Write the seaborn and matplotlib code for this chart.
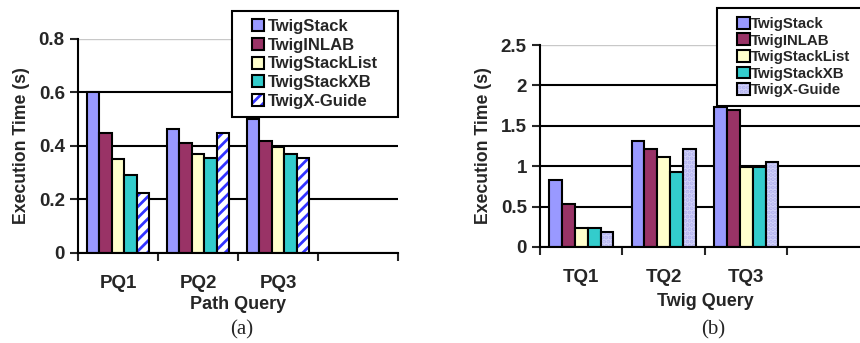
import numpy as np
import pandas as pd
import matplotlib
matplotlib.use('Agg')
import matplotlib.pyplot as plt
from matplotlib.patches import Rectangle, Patch
from matplotlib.ticker import FuncFormatter
import seaborn as sns

algorithms = ['TwigStack', 'TwigINLAB', 'TwigStackList', 'TwigStackXB', 'TwigX-Guide']
colors = ['#9999FF', '#993366', '#FFFFCC', '#33CCCC', '#FFFFFF']

path_queries = ['PQ1', 'PQ2', 'PQ3']
path_twigstack = [0.60, 0.465, 0.50]
path_twiginlab = [0.45, 0.41, 0.42]
path_twigstacklist = [0.35, 0.37, 0.395]
path_twigstackxb = [0.29, 0.355, 0.37]
path_twigxguide = [0.225, 0.45, 0.355]

twig_queries = ['TQ1', 'TQ2', 'TQ3']
twig_twigstack = [0.83, 1.31, 1.73]
twig_twiginlab = [0.53, 1.21, 1.70]
twig_twigstacklist = [0.24, 1.12, 0.99]
twig_twigstackxb = [0.24, 0.93, 0.99]
twig_twigxguide = [0.18, 1.21, 1.05]

path_ticks = [0, 0.2, 0.4, 0.6, 0.8]
twig_ticks = [0, 0.5, 1, 1.5, 2, 2.5]

sns.set_style('white')
plt.rcParams['font.family'] = ['Liberation Sans', 'DejaVu Sans']
plt.rcParams['font.weight'] = 'bold'
plt.rcParams['hatch.linewidth'] = 2.0


def long_frame(queries, series):
    rows = []
    for algo, vals in zip(algorithms, series):
        for q, v in zip(queries, vals):
            rows.append({'query': q, 'algo': algo, 'time': v})
    return pd.DataFrame(rows)


def draw_panel(ax, queries, series, ticks, xlabel, hatch_style, xpad):
    df = long_frame(queries, series)
    sns.barplot(data=df, x='query', y='time', hue='algo', hue_order=algorithms,
                palette=colors, saturation=1, width=0.78, edgecolor='black',
                linewidth=1.5, legend=False, ax=ax)
    face, hcolor, hatch = hatch_style
    # hatch colour follows edgecolor, so draw the outline separately
    for p in ax.containers[4]:
        p.set_facecolor(face)
        p.set_edgecolor(hcolor)
        p.set_hatch(hatch)
        p.set_linewidth(0)
        ax.add_patch(Rectangle(p.get_xy(), p.get_width(), p.get_height(),
                               fill=False, ec='black', lw=1.5, zorder=p.get_zorder()))

    ax.set_xlim(-0.5, 3.5)
    ax.set_ylim(ticks[0], ticks[-1])
    ax.set_yticks(ticks)
    ax.yaxis.set_major_formatter(FuncFormatter(lambda v, pos: '{:g}'.format(v)))
    ax.set_xticks(range(len(queries)), queries)
    ax.set_xticks(np.arange(-0.5, 4.0, 1.0), minor=True)
    ax.tick_params(axis='x', which='major', length=0, pad=16, labelsize=13.5)
    ax.tick_params(axis='x', which='minor', length=6, width=1.5, direction='out', bottom=True)
    ax.tick_params(axis='y', length=6, width=1.5, direction='out', left=True, labelsize=13.5)

    ax.set_axisbelow(True)
    ax.yaxis.grid(True, color='black', lw=1.5)
    ax.get_ygridlines()[-1].set_color('#C8C8C8')
    ax.get_ygridlines()[-1].set_linewidth(1.0)
    for s in ['top', 'right']:
        ax.spines[s].set_visible(False)
    for s in ['left', 'bottom']:
        ax.spines[s].set_color('black')
        ax.spines[s].set_linewidth(1.5)

    ax.set_xlabel(xlabel, fontsize=13, fontweight='bold', labelpad=xpad)
    ax.set_ylabel('Execution Time (s)', fontsize=12.7, fontweight='bold', labelpad=6)

    handles = []
    for i, (algo, c) in enumerate(zip(algorithms, colors)):
        if i == 4:
            handles.append((Patch(facecolor=face, edgecolor=hcolor, hatch=hatch, lw=0),
                            Patch(fill=False, edgecolor='black', lw=1.5)))
        else:
            handles.append(Patch(facecolor=c, edgecolor='black', lw=1.5))
    return handles


def boxed_legend(ax, handles, box, size, spacing, hlen, tpad):
    x0, y0, x1, y1 = box
    ax.add_patch(Rectangle((x0, y0), x1 - x0, y1 - y0, transform=ax.transAxes,
                           facecolor='white', edgecolor='black', lw=1.5,
                           clip_on=False, zorder=4.9))
    leg = ax.legend(handles, algorithms, loc='center',
                    bbox_to_anchor=((x0 + x1) / 2, (y0 + y1) / 2),
                    frameon=False, handlelength=hlen, handleheight=hlen,
                    handletextpad=tpad, labelspacing=spacing, borderpad=0,
                    borderaxespad=0, prop={'weight': 'bold', 'size': size})
    leg.set_zorder(5)
    return leg


fig = plt.figure(figsize=(8.6, 3.43), dpi=100)
ax1 = fig.add_axes([0.0907, 0.2624, 0.3721, 0.6239])
ax2 = fig.add_axes([0.6279, 0.2799, 0.3837, 0.5889])

h1 = draw_panel(ax1, path_queries,
                [path_twigstack, path_twiginlab, path_twigstacklist, path_twigstackxb, path_twigxguide],
                path_ticks, 'Path Query', ('white', '#3333FF', '///'), 3)
h2 = draw_panel(ax2, twig_queries,
                [twig_twigstack, twig_twiginlab, twig_twigstacklist, twig_twigstackxb, twig_twigxguide],
                twig_ticks, 'Twig Query', ('#D4D4FA', '#B0B0EE', '....'), 5)

boxed_legend(ax1, h1, (0.481, 0.636, 1.0, 1.131), 12, 0.23, 0.72, 0.25)
boxed_legend(ax2, h2, (0.536, 0.698, 1.0, 1.183), 10.8, 0.16, 0.85, 0.05)

fig.text(0.2814, 0.038, '(a)', family='Liberation Serif', fontweight='normal', fontsize=15, ha='center', va='center')
fig.text(0.829, 0.038, '(b)', family='Liberation Serif', fontweight='normal', fontsize=15, ha='center', va='center')

fig.savefig('out.png', dpi=100)
